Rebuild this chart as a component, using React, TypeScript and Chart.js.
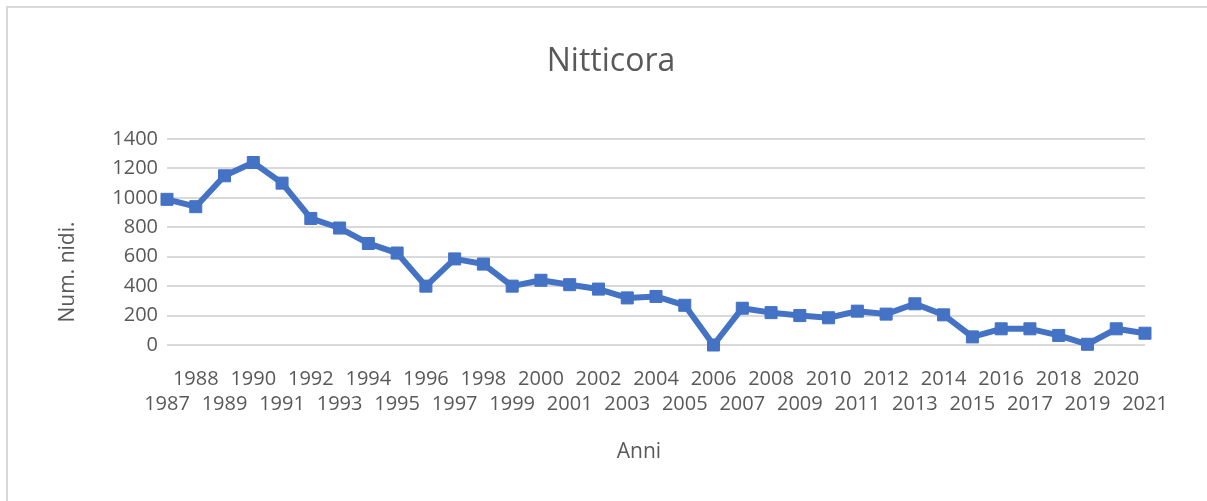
import React, { useEffect, useRef } from "react";
import { Chart, registerables } from "chart.js";

Chart.register(...registerables);

const years: string[] = [
  "1987", "1988", "1989", "1990", "1991", "1992", "1993", "1994", "1995", "1996",
  "1997", "1998", "1999", "2000", "2001", "2002", "2003", "2004", "2005", "2006",
  "2007", "2008", "2009", "2010", "2011", "2012", "2013", "2014", "2015", "2016",
  "2017", "2018", "2019", "2020", "2021",
];

const nests: number[] = [
  990, 940, 1150, 1240, 1100, 860, 795, 690, 625, 400,
  585, 550, 400, 440, 410, 380, 320, 330, 270, 0,
  250, 220, 200, 185, 230, 210, 280, 205, 55, 110,
  110, 65, 5, 110, 80,
];

const yTicks: number[] = [0, 200, 400, 600, 800, 1000, 1200, 1400];

const chartTitle = "Nitticora";
const yTitle = "Num. nidi.";
const xTitle = "Anni";

const FONT = "'Open Sans', 'DejaVu Sans', sans-serif";
const TEXT = "#595959";

const titlesPlugin = {
  id: "excelTitles",
  afterDraw(chart: any) {
    const { ctx, chartArea } = chart;
    ctx.save();
    ctx.fillStyle = TEXT;
    ctx.textAlign = "center";
    ctx.textBaseline = "middle";
    ctx.font = `32px ${FONT}`;
    ctx.fillText(chartTitle, 611, 62);
    ctx.font = `21px ${FONT}`;
    ctx.fillText(xTitle, 639, 452);
    ctx.translate(68, (chartArea.top + chartArea.bottom + 60) / 2);
    ctx.rotate(-Math.PI / 2);
    ctx.fillText(yTitle, 0, 0);
    ctx.restore();
  },
};

export default function App() {
  const ref = useRef<HTMLCanvasElement | null>(null);

  useEffect(() => {
    document.body.style.margin = "0";
    const canvas = ref.current;
    if (!canvas) return;
    const chart = new Chart(canvas, {
      type: "line",
      data: {
        labels: years,
        datasets: [
          {
            label: chartTitle,
            data: nests,
            borderColor: "#4472C4",
            backgroundColor: "#4472C4",
            borderWidth: 6,
            borderJoinStyle: "round",
            borderCapStyle: "round",
            pointStyle: "rect",
            pointRadius: 8.5,
            pointHoverRadius: 8.5,
            pointBackgroundColor: "#4472C4",
            pointBorderColor: "#4472C4",
            pointBorderWidth: 1,
            tension: 0,
            clip: false,
          } as any,
        ],
      },
      options: {
        animation: false,
        responsive: false,
        maintainAspectRatio: false,
        layout: { padding: { left: 0, top: 139, right: 62, bottom: 0 } },
        plugins: {
          legend: { display: false },
          title: { display: false },
          tooltip: { enabled: false },
        },
        scales: {
          x: {
            type: "category",
            offset: false,
            grid: { display: false, drawTicks: false },
            border: { display: false },
            afterFit(scale: any) {
              scale.height = 156;
            },
            ticks: {
              autoSkip: false,
              maxRotation: 0,
              minRotation: 0,
              padding: 22,
              color: TEXT,
              font: { family: FONT, size: 20, lineHeight: "25px" } as any,
              callback(_v: any, index: number) {
                const lab = years[index];
                return index % 2 === 0 ? ["", lab] : [lab, ""];
              },
            },
          },
          y: {
            min: 0,
            max: 1400,
            afterFit(scale: any) {
              scale.width = 167;
            },
            afterBuildTicks(scale: any) {
              scale.ticks = yTicks.map((v) => ({ value: v }));
            },
            grid: { color: "#d9d9d9", lineWidth: 2, drawTicks: false },
            border: { display: false },
            ticks: {
              padding: 9,
              color: TEXT,
              font: { family: FONT, size: 20 },
              callback(v: any) {
                return String(v);
              },
            },
          },
        },
      },
      plugins: [titlesPlugin],
    });
    return () => chart.destroy();
  }, []);

  return (
    <div
      style={{
        position: "fixed",
        left: 0,
        top: 0,
        width: 1207,
        height: 501,
        overflow: "hidden",
        background: "#ffffff",
      }}
    >
      <div
        style={{
          position: "absolute",
          left: 6,
          top: 6,
          width: 1400,
          height: 700,
          border: "2px solid #d9d9d9",
          boxSizing: "border-box",
        }}
      />
      <canvas
        ref={ref}
        width={1207}
        height={501}
        style={{ position: "absolute", left: 0, top: 0, width: 1207, height: 501 }}
      />
    </div>
  );
}
